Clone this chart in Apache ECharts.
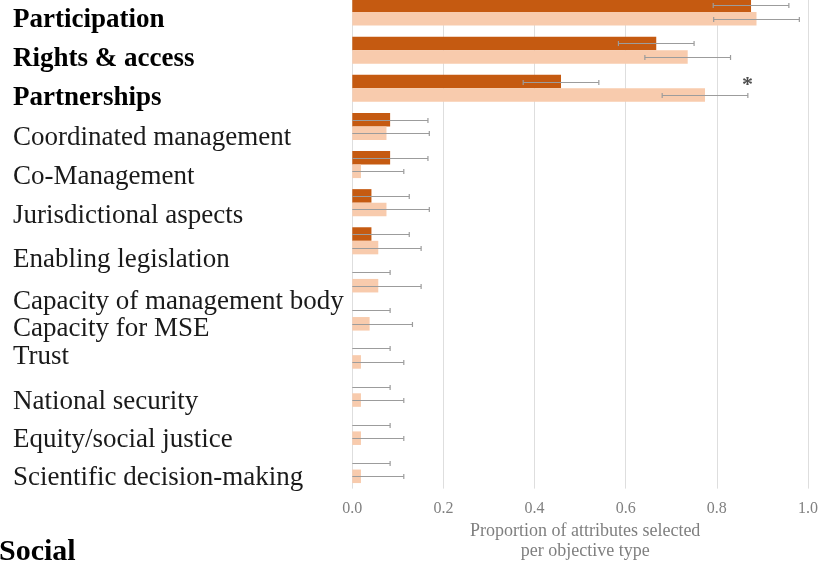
<!DOCTYPE html>
<html>
<head>
<meta charset="utf-8">
<script src="https://cdn.jsdelivr.net/npm/echarts@6/dist/echarts.min.js"></script>
<style>
  html, body { margin: 0; padding: 0; background: #ffffff; }
  #chart { width: 819px; height: 563px; }
</style>
</head>
<body>
<div id="chart"></div>
<script>
// Governance attributes, listed top to bottom
const categories = [
  'Participation',
  'Rights & access',
  'Partnerships',
  'Coordinated management',
  'Co-Management',
  'Jurisdictional aspects',
  'Enabling legislation',
  'Capacity of management body',
  'Capacity for MSE',
  'Trust',
  'National security',
  'Equity/social justice',
  'Scientific decision-making'
];
const headlineCategories = ['Participation', 'Rights & access', 'Partnerships'];

// Proportion of attributes selected, first objective type (dark bars)
const groupA = [0.875, 0.667, 0.458, 0.083, 0.083, 0.042, 0.042, 0, 0, 0, 0, 0, 0];
const groupAErr = [0.083, 0.083, 0.083, 0.083, 0.083, 0.083, 0.083, 0.083, 0.083, 0.083, 0.083, 0.083, 0.083];

// Proportion of attributes selected, second objective type (light bars)
const groupB = [0.887, 0.736, 0.774, 0.075, 0.019, 0.075, 0.057, 0.057, 0.038, 0.019, 0.019, 0.019, 0.019];
const groupBErr = [0.094, 0.094, 0.094, 0.094, 0.094, 0.094, 0.094, 0.094, 0.094, 0.094, 0.094, 0.094, 0.094];

// Significance marker
const markedCategory = 'Partnerships';
const markedValue = 0.867;

const xTicks = [0, 0.2, 0.4, 0.6, 0.8, 1.0];
const axisTitle = 'Proportion of attributes selected\nper objective type';
const panelTitle = 'Social';

// ---- layout / style ----
const SERIF = '"Liberation Serif", "Times New Roman", serif';
const DARK = '#C55A11';
const LIGHT = '#F8CBAD';
const BAR_FRACTION = 0.355;
const CAPTION_X = 13;
// per-row vertical nudge of the row captions relative to the row centre (px, positive = down)
const captionNudge = [7.7, 9.2, 10.2, 11.7, 12.2, 13.7, 18.7, 22.7, 12.2, 1.7, 8.7, 8.7, 8.7];

function errorBars(values, errs, side) {
  return {
    type: 'custom',
    z: 5,
    silent: true,
    data: values.map(function (v, i) { return [v, i, errs[i]]; }),
    encode: { x: 0, y: 1 },
    renderItem: function (params, api) {
      const v = api.value(0);
      const idx = api.value(1);
      const e = api.value(2);
      const band = api.size([0, 1])[1];
      const off = side * band * BAR_FRACTION / 2;
      const low = v - e;
      const lo = Math.max(0, low);
      const p1 = api.coord([lo, idx]);
      const p2 = api.coord([v + e, idx]);
      const y = Math.round(p1[1] + off) + 0.5;
      const style = { stroke: '#9c9c9c', lineWidth: 1.2 };
      const children = [
        { type: 'line', shape: { x1: p1[0], y1: y, x2: p2[0], y2: y }, style: style },
        { type: 'line', shape: { x1: p2[0], y1: y - 2.5, x2: p2[0], y2: y + 2.5 }, style: style }
      ];
      if (low >= 0.001) {
        children.push({ type: 'line', shape: { x1: p1[0], y1: y - 2.5, x2: p1[0], y2: y + 2.5 }, style: style });
      }
      return { type: 'group', children: children };
    }
  };
}

const chart = echarts.init(document.getElementById('chart'), null, { renderer: 'canvas' });
chart.setOption({
  animation: false,
  backgroundColor: '#ffffff',
  textStyle: { fontFamily: SERIF },
  grid: {
    left: 352.3, right: 11, top: -7, bottom: 74.4,
    containLabel: false,
    outerBoundsMode: 'none'
  },
  xAxis: {
    type: 'value',
    min: 0,
    max: 1,
    interval: 0.2,
    axisLine: { show: false },
    axisTick: { show: false },
    splitLine: { show: true, lineStyle: { color: '#dedede', width: 1 } },
    axisLabel: {
      margin: 12,
      fontFamily: SERIF,
      fontSize: 16,
      color: '#808080',
      formatter: function (v) { return xTicks.indexOf(v) >= 0 ? v.toFixed(1) : ''; }
    },
    name: axisTitle,
    nameLocation: 'middle',
    nameGap: 33,
    nameTextStyle: {
      fontFamily: SERIF,
      fontSize: 18,
      color: '#7f7f7f',
      lineHeight: 20,
      padding: [0, 0, 0, 10]
    }
  },
  yAxis: {
    type: 'category',
    inverse: true,
    data: categories,
    axisLine: { show: false },
    axisTick: { show: false },
    splitLine: { show: false },
    axisLabel: { show: false }
  },
  series: [
    {
      type: 'bar',
      name: 'A',
      data: groupA,
      barWidth: (BAR_FRACTION * 100) + '%',
      barGap: '0%',
      itemStyle: { color: DARK }
    },
    {
      type: 'bar',
      name: 'B',
      data: groupB,
      barWidth: (BAR_FRACTION * 100) + '%',
      barGap: '0%',
      itemStyle: { color: LIGHT }
    },
    errorBars(groupA, groupAErr, -1),
    errorBars(groupB, groupBErr, 1),
    {
      type: 'scatter',
      silent: true,
      symbolSize: 0,
      z: 6,
      data: [[markedValue, categories.indexOf(markedCategory)]],
      label: {
        show: true,
        position: 'inside',
        offset: [0, -3],
        formatter: '*',
        fontFamily: SERIF,
        fontWeight: 'bold',
        fontSize: 22,
        color: '#222222'
      }
    }
  ]
});

// Row captions, left aligned, placed at each category row of the y axis
const captions = categories.map(function (name, i) {
  const headline = headlineCategories.indexOf(name) >= 0;
  const rowY = chart.convertToPixel({ yAxisIndex: 0 }, name);
  return {
    type: 'text',
    x: CAPTION_X,
    y: rowY + captionNudge[i],
    silent: true,
    style: {
      text: name,
      fontFamily: SERIF,
      fontSize: 27,
      fontWeight: headline ? 'bold' : 'normal',
      fill: headline ? '#000000' : '#1a1a1a',
      verticalAlign: 'middle'
    }
  };
});

captions.push({
  type: 'text',
  x: -1,
  y: 552.5,
  silent: true,
  style: {
    text: panelTitle,
    fontFamily: SERIF,
    fontWeight: 'bold',
    fontSize: 30,
    fill: '#000000',
    verticalAlign: 'middle'
  }
});

chart.setOption({ graphic: captions });
</script>
</body>
</html>
